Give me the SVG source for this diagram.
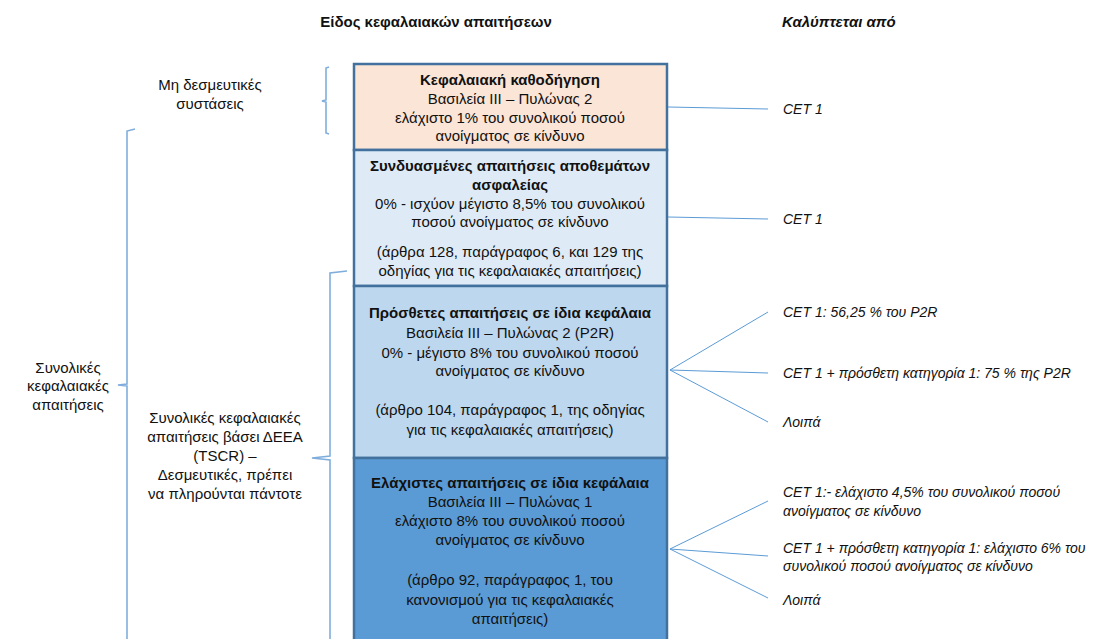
<svg xmlns="http://www.w3.org/2000/svg" width="1094" height="639" viewBox="0 0 1094 639">
<style>
text{font-family:"Liberation Sans","Noto Sans",Arial,sans-serif;font-size:15px;fill:#111;}
.c{text-anchor:middle;}
.b{font-weight:bold;}
.i{font-style:italic;font-size:14px;}
.h{font-size:15px;}
.box{stroke:#41719C;stroke-width:2.5;}
.ln{stroke:#5B9BD5;stroke-width:1;fill:none;}
.br{stroke:#7FAEDD;stroke-width:1.6;fill:none;}
</style>
<rect width="1094" height="639" fill="#fff"/>
<g id="headers">
<text class="c b" x="436" y="27">Είδος κεφαλαιακών απαιτήσεων</text>
<text class="b i h" x="782" y="27">Καλύπτεται από</text>
</g>
<g id="left-labels">
<g id="label-nonbinding">
<text class="c" x="210" y="90">Μη δεσμευτικές</text>
<text class="c" x="210" y="109">συστάσεις</text>
</g>
<g id="label-total">
<text class="c" x="68" y="373">Συνολικές</text>
<text class="c" x="68" y="391">κεφαλαιακές</text>
<text class="c" x="68" y="410">απαιτήσεις</text>
</g>
<g id="label-tscr">
<text class="c" x="225" y="423">Συνολικές κεφαλαιακές</text>
<text class="c" x="225" y="442">απαιτήσεις βάσει ΔΕΕΑ</text>
<text class="c" x="225" y="461">(TSCR) –</text>
<text class="c" x="225" y="480">Δεσμευτικές, πρέπει</text>
<text class="c" x="225" y="499">να πληρούνται πάντοτε</text>
</g>
</g>
<g id="braces">
<path class="br" d="M329,67 L326,68 L326,100 L322,101 L326,102 L326,133 L329,134"/>
<path class="br" d="M135,129 L127,131 L127,384 L118,385 L127,386 L127,645"/>
<path class="br" d="M347,271 L330,273 L330,456 L312,458 L330,460 L330,645"/>
</g>
<g id="box-guidance">
<rect class="box" x="354" y="64" width="313" height="86" fill="#FBE5D6"/>
<text class="c b" x="510" y="85">Κεφαλαιακή καθοδήγηση</text>
<text class="c" x="510" y="104">Βασιλεία III – Πυλώνας 2</text>
<text class="c" x="510" y="123">ελάχιστο 1% του συνολικού ποσού</text>
<text class="c" x="510" y="141">ανοίγματος σε κίνδυνο</text>
</g>
<g id="box-buffer">
<rect class="box" x="354" y="150" width="313" height="136" fill="#DEEBF7"/>
<text class="c b" x="510" y="171">Συνδυασμένες απαιτήσεις αποθεμάτων</text>
<text class="c b" x="510" y="190">ασφαλείας</text>
<text class="c" x="510" y="209">0% - ισχύον μέγιστο 8,5% του συνολικού</text>
<text class="c" x="510" y="227">ποσού ανοίγματος σε κίνδυνο</text>
<text class="c" x="510" y="257">(άρθρα 128, παράγραφος 6, και 129 της</text>
<text class="c" x="510" y="276">οδηγίας για τις κεφαλαιακές απαιτήσεις)</text>
</g>
<g id="box-p2r">
<rect class="box" x="354" y="286" width="313" height="172" fill="#BDD7EE"/>
<text class="c b" x="510" y="318">Πρόσθετες απαιτήσεις σε ίδια κεφάλαια</text>
<text class="c" x="510" y="338">Βασιλεία III – Πυλώνας 2 (P2R)</text>
<text class="c" x="510" y="358">0% - μέγιστο 8% του συνολικού ποσού</text>
<text class="c" x="510" y="376">ανοίγματος σε κίνδυνο</text>
<text class="c" x="510" y="415">(άρθρο 104, παράγραφος 1, της οδηγίας</text>
<text class="c" x="510" y="435">για τις κεφαλαιακές απαιτήσεις)</text>
</g>
<g id="box-p1">
<rect class="box" x="354" y="458" width="313" height="190" fill="#5B9BD5"/>
<text class="c b" x="510" y="488">Ελάχιστες απαιτήσεις σε ίδια κεφάλαια</text>
<text class="c" x="510" y="507">Βασιλεία III – Πυλώνας 1</text>
<text class="c" x="510" y="526">ελάχιστο 8% του συνολικού ποσού</text>
<text class="c" x="510" y="545">ανοίγματος σε κίνδυνο</text>
<text class="c" x="510" y="585">(άρθρο 92, παράγραφος 1, του</text>
<text class="c" x="510" y="605">κανονισμού για τις κεφαλαιακές</text>
<text class="c" x="510" y="624">απαιτήσεις)</text>
</g>
<g id="connectors">
<line class="ln" x1="668" y1="107" x2="768" y2="109"/>
<line class="ln" x1="668" y1="217" x2="768" y2="219"/>
<line class="ln" x1="670" y1="370" x2="768" y2="312"/>
<line class="ln" x1="670" y1="370" x2="768" y2="373"/>
<line class="ln" x1="670" y1="370" x2="768" y2="422"/>
<line class="ln" x1="670" y1="549" x2="768" y2="501"/>
<line class="ln" x1="670" y1="549" x2="768" y2="556"/>
<line class="ln" x1="670" y1="549" x2="768" y2="598"/>
</g>
<g id="coverage-labels">
<text class="i" x="783" y="114">CET 1</text>
<text class="i" x="783" y="224">CET 1</text>
<text class="i" x="783" y="317">CET 1: 56,25 % του P2R</text>
<text class="i" x="783" y="378">CET 1 + πρόσθετη κατηγορία 1: 75 % της P2R</text>
<text class="i" x="783" y="427">Λοιπά</text>
<text class="i" x="783" y="497">CET 1:- ελάχιστο 4,5% του συνολικού ποσού</text>
<text class="i" x="783" y="516">ανοίγματος σε κίνδυνο</text>
<text class="i" x="783" y="553">CET 1 + πρόσθετη κατηγορία 1: ελάχιστο 6% του</text>
<text class="i" x="783" y="571">συνολικού ποσού ανοίγματος σε κίνδυνο</text>
<text class="i" x="783" y="605">Λοιπά</text>
</g>
</svg>
